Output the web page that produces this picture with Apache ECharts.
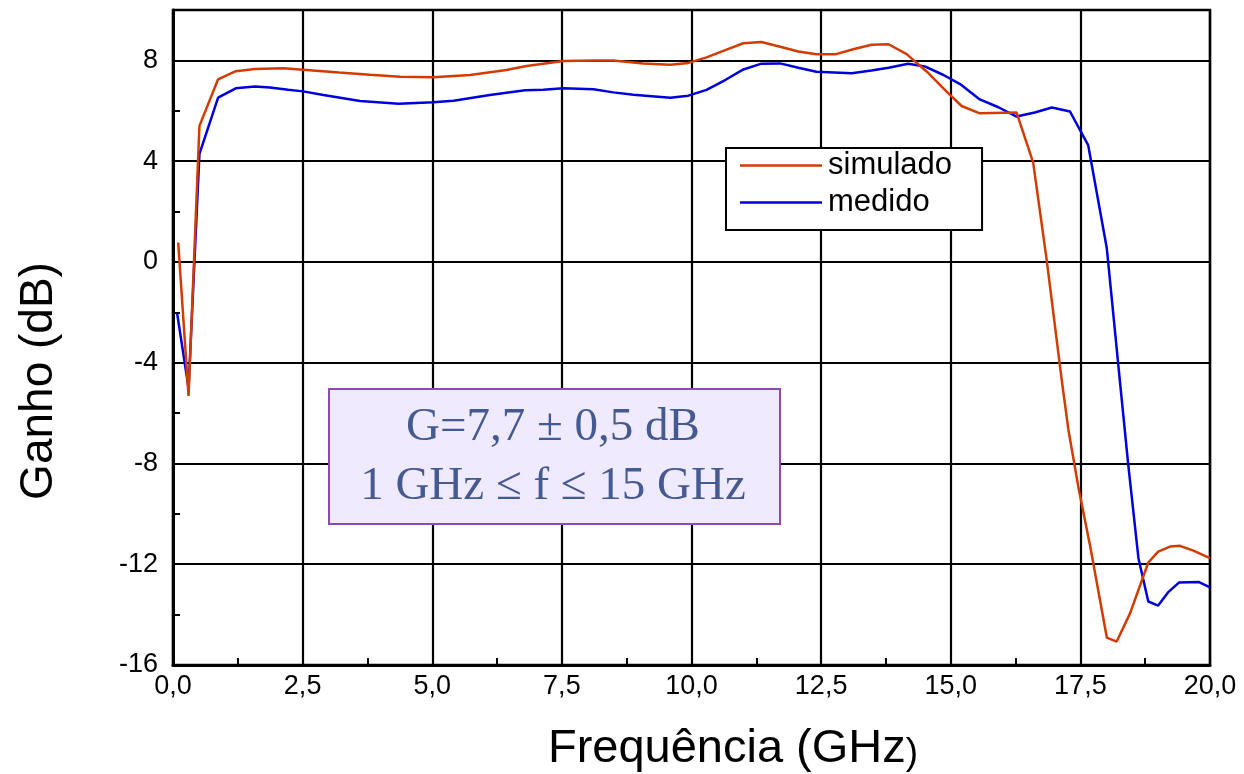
<!DOCTYPE html>
<html>
<head>
<meta charset="utf-8">
<script src="https://cdn.jsdelivr.net/npm/echarts@6/dist/echarts.min.js"></script>
<style>
  html, body { margin: 0; padding: 0; background: #fff; }
  #chart { width: 1244px; height: 774px; }
</style>
</head>
<body>
<div id="chart"></div>
<script>
// ganho simulado x medido
var simFreq = [0.10, 0.30, 0.51, 0.87, 1.21, 1.58, 2.13, 2.51, 3.20, 3.80, 4.38, 5.02, 5.73, 6.43, 6.82, 7.53,
  8.11, 8.49, 9.07, 9.59, 9.94, 10.29, 10.65, 11.00, 11.35, 11.71, 12.06, 12.41, 12.77, 13.12, 13.47, 13.80,
  14.15, 14.54, 14.92, 15.21, 15.56, 16.27, 16.59, 16.85, 17.14, 17.27, 17.46, 17.69, 18.01, 18.20, 18.46,
  18.81, 19.00, 19.23, 19.42, 19.68, 20.00];
var simGain = [0.77, -5.32, 5.40, 7.25, 7.57, 7.66, 7.69, 7.63, 7.52, 7.43, 7.35, 7.33, 7.42, 7.62, 7.78, 7.98,
  8.00, 8.00, 7.88, 7.83, 7.90, 8.12, 8.41, 8.68, 8.73, 8.54, 8.35, 8.24, 8.24, 8.44, 8.62, 8.64,
  8.25, 7.55, 6.76, 6.19, 5.90, 5.93, 3.94, 0.08, -4.68, -6.67, -8.92, -11.30, -14.91, -15.07, -13.94,
  -11.93, -11.50, -11.30, -11.27, -11.46, -11.76];

var medFreq = [0.08, 0.30, 0.51, 0.87, 1.21, 1.58, 1.87, 2.22, 2.51, 2.90, 3.61, 4.35, 5.02, 5.41, 6.11, 6.79,
  7.14, 7.53, 8.11, 8.49, 8.88, 9.59, 9.94, 10.29, 10.65, 11.00, 11.35, 11.71, 12.06, 12.41, 13.09, 13.47,
  13.80, 14.18, 14.50, 14.86, 15.18, 15.56, 15.92, 16.27, 16.62, 16.95, 17.30, 17.65, 18.01, 18.26, 18.42,
  18.62, 18.81, 19.00, 19.19, 19.40, 19.79, 20.00];
var medGain = [-2.04, -5.01, 4.29, 6.52, 6.89, 6.96, 6.92, 6.83, 6.77, 6.63, 6.39, 6.28, 6.34, 6.40, 6.63, 6.81,
  6.83, 6.89, 6.85, 6.73, 6.64, 6.52, 6.60, 6.83, 7.22, 7.64, 7.87, 7.88, 7.71, 7.55, 7.49, 7.60,
  7.71, 7.87, 7.76, 7.42, 7.06, 6.45, 6.14, 5.77, 5.93, 6.13, 5.97, 4.64, 0.54, -4.68, -7.99,
  -11.76, -13.48, -13.64, -13.12, -12.73, -12.71, -12.92];

var seriesNames = ['simulado', 'medido'];
var annotLines = ['G=7,7 \u00b1 0,5 dB', '1 GHz \u2264 f \u2264 15 GHz'];

function pairs(xs, ys) {
  return xs.map(function (x, i) { return [x, ys[i]]; });
}

var chart = echarts.init(document.getElementById('chart'));
var font = 'Arial, "Liberation Sans", sans-serif';

var option = {
  backgroundColor: '#fff',
  animation: false,
  grid: {
    left: 173, right: 34, top: 10, bottom: 109,
    show: true, borderColor: '#000', borderWidth: 2.5
  },
  legend: {
    data: seriesNames,
    orient: 'vertical',
    left: 726, top: 148,
    icon: 'rect',
    itemWidth: 82, itemHeight: 2.5,
    itemGap: 6,
    padding: [2, 30, 12, 14],
    backgroundColor: '#fff',
    borderColor: '#000', borderWidth: 2,
    textStyle: { fontFamily: font, fontSize: 31, color: '#000', lineHeight: 31, padding: [0, 0, 0, 1] }
  },
  xAxis: {
    type: 'value',
    min: 0, max: 20, interval: 2.5,
    axisLine: { show: true, onZero: false, lineStyle: { color: '#000', width: 3 } },
    axisTick: { show: false },
    minorTick: { show: true, splitNumber: 2, length: -7, lineStyle: { color: '#000', width: 2 } },
    splitLine: { show: true, lineStyle: { color: '#000', width: 2.2 } },
    axisLabel: {
      fontFamily: font, fontSize: 27, color: '#000', margin: 8,
      formatter: function (v) { return v.toFixed(1).replace('.', ','); }
    }
  },
  yAxis: {
    type: 'value',
    min: -16, max: 10, interval: 4,
    axisLine: { show: true, onZero: false, lineStyle: { color: '#000', width: 3 } },
    axisTick: { show: false },
    minorTick: { show: true, splitNumber: 2, length: -7, lineStyle: { color: '#000', width: 2 } },
    splitLine: { show: true, lineStyle: { color: '#000', width: 2.2 } },
    axisLabel: {
      fontFamily: font, fontSize: 27, color: '#000', margin: 15,
      showMaxLabel: false
    }
  },
  series: [
    {
      name: seriesNames[0], type: 'line', data: pairs(simFreq, simGain),
      showSymbol: false, z: 4,
      lineStyle: { color: '#d23c00', width: 2.5 }, itemStyle: { color: '#d23c00' }
    },
    {
      name: seriesNames[1], type: 'line', data: pairs(medFreq, medGain),
      showSymbol: false, z: 3,
      lineStyle: { color: '#0000dc', width: 2.5 }, itemStyle: { color: '#0000dc' }
    }
  ],
  graphic: [
    {
      type: 'rect', left: 328, top: 388, z: 10,
      shape: { width: 451, height: 135 },
      style: { fill: '#f0eaff', stroke: '#8a4cb4', lineWidth: 2 }
    },
    {
      type: 'text', z: 11, x: 553, y: 457,
      style: {
        text: annotLines.join('\n'),
        font: '47px "Liberation Serif", "Times New Roman", serif',
        fill: '#445a90', align: 'center', verticalAlign: 'middle', lineHeight: 59
      }
    },
    {
      type: 'text', z: 11, x: 39, y: 381, rotation: Math.PI / 2,
      style: {
        text: 'Ganho (dB)', font: '46px ' + font, fill: '#000',
        align: 'center', verticalAlign: 'middle'
      }
    },
    {
      type: 'text', z: 11, x: 733, y: 749,
      style: {
        text: '{a|Frequência (GHz}{b|)}',
        rich: {
          a: { font: '47px ' + font, fill: '#000', verticalAlign: 'bottom' },
          b: { font: '37px ' + font, fill: '#000', verticalAlign: 'bottom' }
        },
        align: 'center', verticalAlign: 'middle'
      }
    }
  ]
};

chart.setOption(option);
</script>
</body>
</html>
